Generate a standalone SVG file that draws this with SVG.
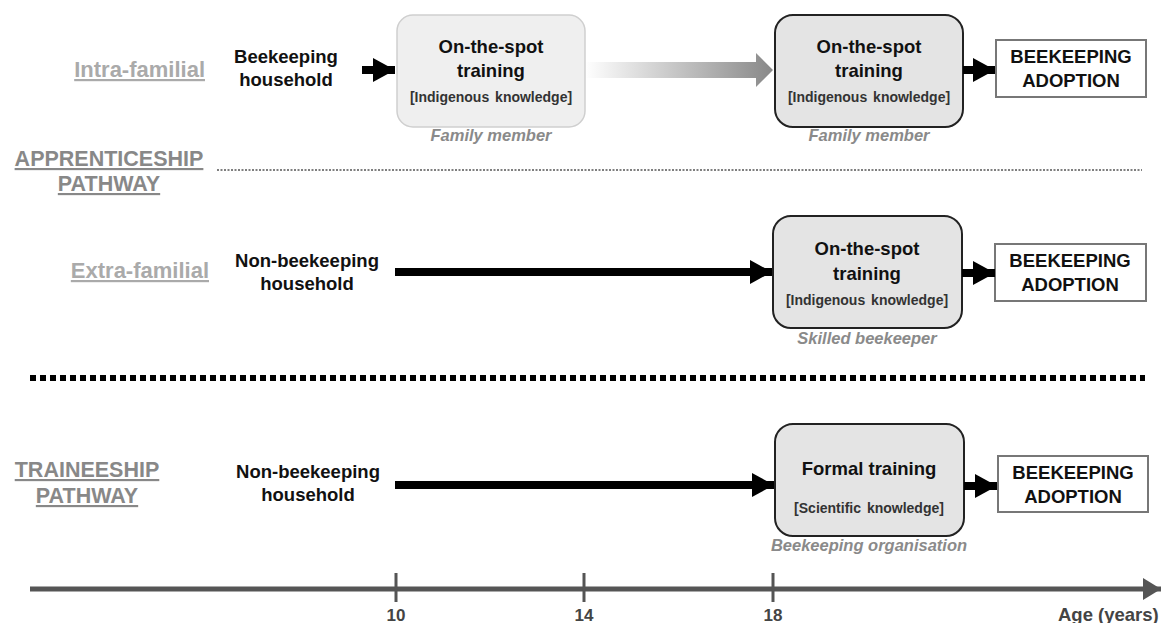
<svg xmlns="http://www.w3.org/2000/svg" width="1163" height="623" viewBox="0 0 1163 623">
<style>
text{font-family:"Liberation Sans",Arial,sans-serif;font-weight:bold}
.lbl{font-size:18.5px;fill:#111;text-anchor:middle}
.kn{font-size:14px;fill:#333;text-anchor:middle;word-spacing:2px}
.role{font-size:16.5px;fill:#8a8a8a;font-style:italic;text-anchor:middle}
.sub{font-size:22px;fill:#aaa;text-anchor:end;text-decoration:underline}
.path{font-size:21.5px;fill:#888;text-anchor:middle;text-decoration:underline}
.adopt{fill:#fff;stroke:#777;stroke-width:2}
.tr{fill:#e4e4e4;stroke:#222;stroke-width:2}
.ax{font-size:17px;fill:#444;text-anchor:middle}
.shaft{stroke:#000;stroke-width:8;fill:none}
</style>
<defs>
<marker id="ah" markerUnits="userSpaceOnUse" markerWidth="22" markerHeight="24" refX="22" refY="12" orient="auto">
<path d="M0,0 L22,12 L0,24 z" fill="#000"/>
</marker>
<marker id="axh" markerUnits="userSpaceOnUse" markerWidth="18" markerHeight="22" refX="18" refY="11" orient="auto">
<path d="M0,0 L18,11 L0,22 z" fill="#555"/>
</marker>
<linearGradient id="gr" x1="585" y1="0" x2="773" y2="0" gradientUnits="userSpaceOnUse">
<stop offset="0" stop-color="#fff"/>
<stop offset="1" stop-color="#888"/>
</linearGradient>
</defs>

<g id="labels">
<text class="sub" x="205" y="77">Intra-familial</text>
<text class="path" x="109" y="166">APPRENTICESHIP</text>
<text class="path" x="109" y="191">PATHWAY</text>
<text class="sub" x="209" y="278">Extra-familial</text>
<text class="path" x="87" y="477">TRAINEESHIP</text>
<text class="path" x="87" y="503">PATHWAY</text>
</g>

<g id="separators">
<line x1="217" y1="170" x2="1142" y2="170" stroke="#555" stroke-width="1.5" stroke-dasharray="2 1.5"/>
<line x1="30" y1="378" x2="1145" y2="378" stroke="#000" stroke-width="6" stroke-dasharray="6 4"/>
</g>

<g id="source1"><text class="lbl" x="286" y="63">Beekeeping</text><text class="lbl" x="286" y="86">household</text></g>
<g id="source2"><text class="lbl" x="307" y="267">Non-beekeeping</text><text class="lbl" x="307" y="290">household</text></g>
<g id="source3"><text class="lbl" x="308" y="478">Non-beekeeping</text><text class="lbl" x="308" y="501">household</text></g>

<g id="training1">
<rect x="397" y="15" width="188" height="112" rx="16" fill="#efefef" stroke="#cfcfcf" stroke-width="1.5"/>
<text class="lbl" x="491" y="53">On-the-spot</text>
<text class="lbl" x="491" y="77">training</text>
<text class="kn" x="491" y="102">[Indigenous knowledge]</text>
<text class="role" x="491" y="141">Family member</text>
</g>
<g id="training2">
<rect x="775" y="15" width="188" height="112" rx="18" class="tr"/>
<text class="lbl" x="869" y="53">On-the-spot</text>
<text class="lbl" x="869" y="77">training</text>
<text class="kn" x="869" y="102">[Indigenous knowledge]</text>
<text class="role" x="869" y="141">Family member</text>
</g>
<g id="training3">
<rect x="773" y="216" width="189" height="112" rx="18" class="tr"/>
<text class="lbl" x="867" y="255">On-the-spot</text>
<text class="lbl" x="867" y="280">training</text>
<text class="kn" x="867" y="305">[Indigenous knowledge]</text>
<text class="role" x="867" y="344">Skilled beekeeper</text>
</g>
<g id="training4">
<rect x="775" y="424" width="189" height="112" rx="18" class="tr"/>
<text class="lbl" x="869" y="475">Formal training</text>
<text class="kn" x="869" y="513">[Scientific knowledge]</text>
<text class="role" x="869" y="551">Beekeeping organisation</text>
</g>

<g id="adoption1"><rect x="996" y="40" width="150" height="57" class="adopt"/><text class="lbl" x="1071" y="63">BEEKEEPING</text><text class="lbl" x="1071" y="87">ADOPTION</text></g>
<g id="adoption2"><rect x="995" y="244" width="151" height="57" class="adopt"/><text class="lbl" x="1070" y="267">BEEKEEPING</text><text class="lbl" x="1070" y="291">ADOPTION</text></g>
<g id="adoption3"><rect x="998" y="456" width="150" height="56" class="adopt"/><text class="lbl" x="1073" y="479">BEEKEEPING</text><text class="lbl" x="1073" y="503">ADOPTION</text></g>

<g id="connectors">
<line class="shaft" x1="362" y1="70" x2="395" y2="70" marker-end="url(#ah)"/>
<path d="M586,62 L756,62 L756,53 L773,70 L756,87 L756,78 L586,78 z" fill="url(#gr)"/>
<line class="shaft" x1="963" y1="70" x2="995" y2="70" marker-end="url(#ah)"/>
<line class="shaft" x1="395" y1="272" x2="772" y2="272" marker-end="url(#ah)"/>
<line class="shaft" x1="962" y1="273" x2="995" y2="273" marker-end="url(#ah)"/>
<line class="shaft" x1="395" y1="485" x2="774" y2="485" marker-end="url(#ah)"/>
<line class="shaft" x1="964" y1="486" x2="997" y2="486" marker-end="url(#ah)"/>
</g>

<g id="axis">
<line x1="30" y1="589" x2="1161" y2="589" stroke="#555" stroke-width="5" marker-end="url(#axh)"/>
<line x1="396" y1="573" x2="396" y2="602" stroke="#555" stroke-width="3"/>
<line x1="584" y1="573" x2="584" y2="602" stroke="#555" stroke-width="3"/>
<line x1="773" y1="573" x2="773" y2="602" stroke="#555" stroke-width="3"/>
<text class="ax" x="396" y="621">10</text>
<text class="ax" x="584" y="621">14</text>
<text class="ax" x="773" y="621">18</text>
<text class="ax" x="1058" y="621" style="text-anchor:start;font-size:18.5px">Age (years)</text>
</g>
</svg>
